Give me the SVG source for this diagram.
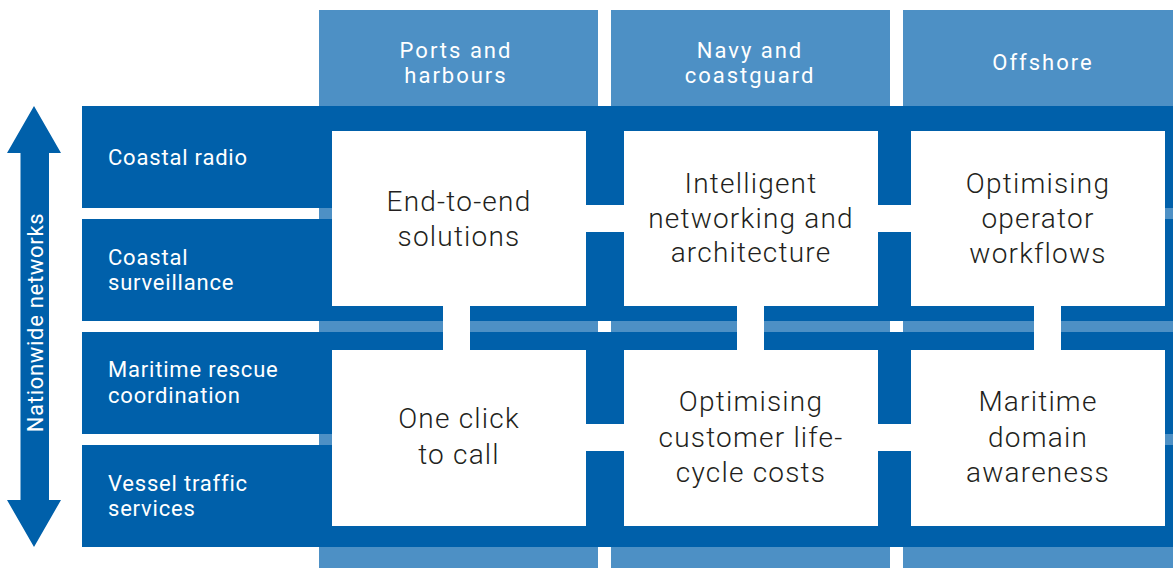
<svg xmlns="http://www.w3.org/2000/svg" width="1173" height="568" viewBox="0 0 1173 568">
<style>
.col{fill:#4d90c5}
.row{fill:#0060aa}
.box{fill:#ffffff}
.hd{font-family:Roboto,"Liberation Sans",sans-serif;font-size:22px;fill:#ffffff;text-anchor:middle;letter-spacing:2px}
.lb{font-family:Roboto,"Liberation Sans",sans-serif;font-size:22px;fill:#ffffff;letter-spacing:0.8px}
.bt{font-family:Roboto,"Liberation Sans",sans-serif;font-size:28px;font-weight:300;fill:#231f20;text-anchor:middle;letter-spacing:1.2px}
</style>
<rect width="1173" height="568" fill="#ffffff"/>
<g id="col-ports"><rect class="col" x="319" y="10" width="279" height="558"/>
<text class="hd" x="456" y="58">Ports and</text><text class="hd" x="456" y="83">harbours</text></g>
<g id="col-navy"><rect class="col" x="611" y="10" width="279" height="558"/>
<text class="hd" x="750" y="58">Navy and</text><text class="hd" x="750" y="83">coastguard</text></g>
<g id="col-offshore"><rect class="col" x="903" y="10" width="270" height="558"/>
<text class="hd" x="1043" y="70">Offshore</text></g>
<g id="row-radio"><rect class="row" x="82" y="106" width="1091" height="102"/>
<text class="lb" x="108" y="165">Coastal radio</text></g>
<g id="row-surveillance"><rect class="row" x="82" y="219" width="1091" height="102"/>
<text class="lb" x="108" y="265">Coastal</text><text class="lb" x="108" y="290">surveillance</text></g>
<g id="row-rescue"><rect class="row" x="82" y="332" width="1091" height="102"/>
<text class="lb" x="108" y="377">Maritime rescue</text><text class="lb" x="108" y="403">coordination</text></g>
<g id="row-vts"><rect class="row" x="82" y="445" width="1091" height="102"/>
<text class="lb" x="108" y="491">Vessel traffic</text><text class="lb" x="108" y="516">services</text></g>
<g id="connectors">
<rect class="box" x="586" y="205" width="38" height="27"/>
<rect class="box" x="878" y="205" width="33" height="27"/>
<rect class="box" x="586" y="424" width="38" height="27"/>
<rect class="box" x="878" y="424" width="33" height="27"/>
<rect class="box" x="443" y="306" width="27" height="44"/>
<rect class="box" x="737" y="306" width="27" height="44"/>
<rect class="box" x="1034" y="306" width="27" height="44"/>
<path d="M34 106 L61 153 L49 153 L49 500 L61 500 L34 547 L7 500 L20.5 500 L20.5 153 L7 153 Z" fill="#0060aa"/>
<text class="lb" transform="translate(43 322.5) rotate(-90)" text-anchor="middle" style="letter-spacing:0.7px">Nationwide networks</text>
</g>
<g id="box-e2e"><rect class="box" x="332" y="131" width="254" height="175"/>
<text class="bt" x="459" y="211">End-to-end</text><text class="bt" x="459" y="246">solutions</text></g>
<g id="box-network"><rect class="box" x="624" y="131" width="254" height="175"/>
<text class="bt" x="751" y="193">Intelligent</text><text class="bt" x="751" y="228">networking and</text><text class="bt" x="751" y="262">architecture</text></g>
<g id="box-workflows"><rect class="box" x="911" y="131" width="254" height="175"/>
<text class="bt" x="1038" y="193">Optimising</text><text class="bt" x="1038" y="228">operator</text><text class="bt" x="1038" y="263">workflows</text></g>
<g id="box-click"><rect class="box" x="332" y="350" width="254" height="176"/>
<text class="bt" x="459" y="428">One click</text><text class="bt" x="459" y="464">to call</text></g>
<g id="box-costs"><rect class="box" x="624" y="350" width="254" height="176"/>
<text class="bt" x="751" y="411">Optimising</text><text class="bt" x="751" y="447">customer life-</text><text class="bt" x="751" y="482">cycle costs</text></g>
<g id="box-mda"><rect class="box" x="911" y="350" width="254" height="176"/>
<text class="bt" x="1038" y="411">Maritime</text><text class="bt" x="1038" y="447">domain</text><text class="bt" x="1038" y="482">awareness</text></g>
</svg>
